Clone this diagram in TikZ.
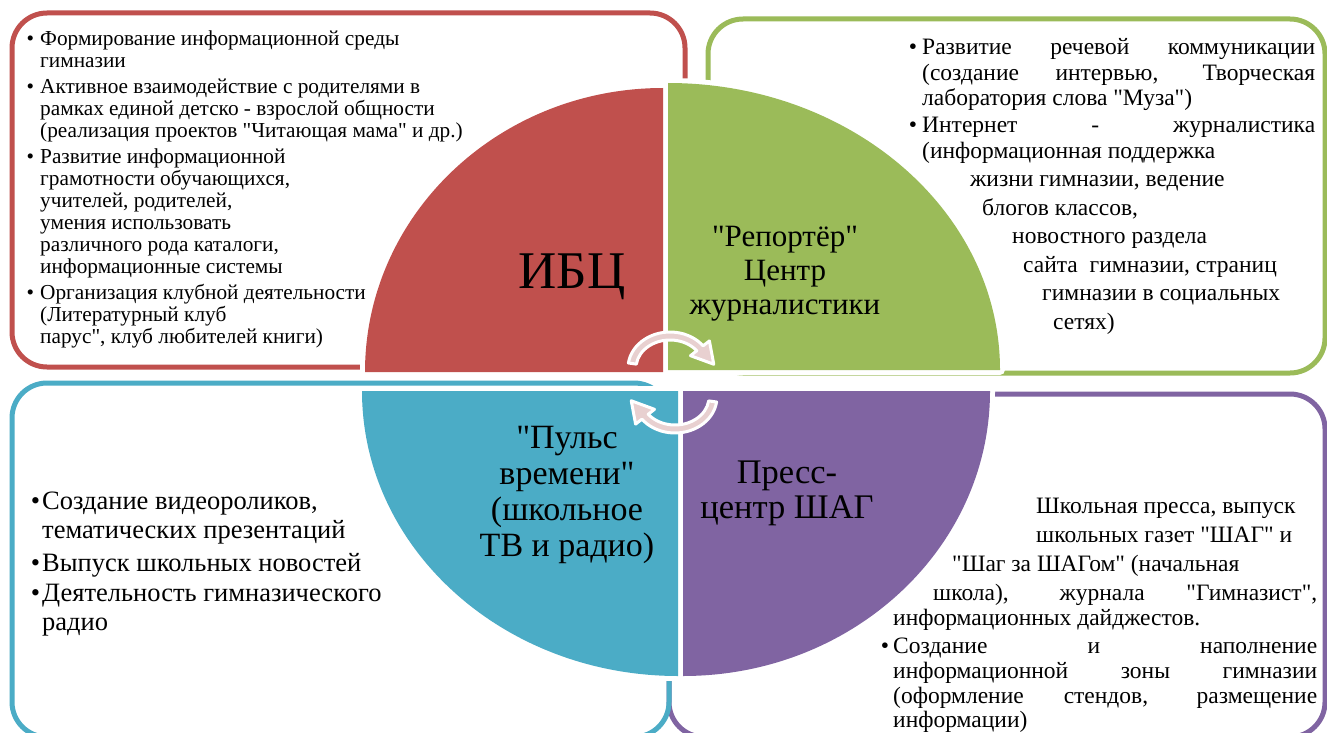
\documentclass[tikz,border=0pt]{standalone}
\usepackage{fontspec}
\setmainfont{Liberation Serif}
\newfontfamily\tnr{Liberation Serif}
\usetikzlibrary{calc}
\definecolor{ibcred}{RGB}{192,80,77}
\definecolor{repgreen}{RGB}{155,187,89}
\definecolor{tvblue}{RGB}{75,172,198}
\definecolor{presspurple}{RGB}{128,100,162}
\definecolor{arrowpink}{RGB}{232,208,208}
\newcommand{\bulx}[1]{\leavevmode\llap{\textbullet\hspace{#1}}}
\begin{document}
\begin{tikzpicture}[x=1pt,y=-1pt,
  every node/.append style={font=\tnr},
  frame/.style={draw, line width=5pt, rounded corners=35pt, inner sep=0pt, outer sep=0pt, anchor=north west},
  halo/.style={draw=white, line width=10pt, line join=round},
  label/.style={inner sep=0pt, anchor=base},
  block/.style={inner sep=0pt, anchor=base west},
  cyc/.style={fill=arrowpink, draw=white, line width=3pt, line join=round},
]
\useasboundingbox (0,0) rectangle (1327,733);
\clip (0,0) rectangle (1327,733);
\fill[white] (0,0) rectangle (1327,733);

% frames
\node[frame, draw=ibcred, minimum width=673pt, minimum height=354pt] (ibcbox) at (12,13) {};
\node[frame, draw=repgreen, minimum width=617pt, minimum height=354pt] (repbox) at (708,19) {};
\node[frame, draw=presspurple, minimum width=656pt, minimum height=343pt] (pressbox) at (669,394) {};
\node[frame, draw=tvblue, minimum width=657pt, minimum height=354pt] (tvbox) at (12,383) {};

% white halos round the quarters
\path[halo] (663,372) -- ++(-298,0) arc[start angle=180, end angle=270, x radius=298, y radius=284] -- cycle;
\path[halo] (668,370) -- ++(332,0) arc[start angle=0, end angle=-90, x radius=332, y radius=287] -- cycle;
\path[halo] (678,391) -- ++(-316,0) arc[start angle=180, end angle=90, x radius=316, y radius=285] -- cycle;
\path[halo] (683,391) -- ++(307,0) arc[start angle=0, end angle=90, x radius=307, y radius=285] -- cycle;

% quarters
\fill[ibcred] (663,372) -- ++(-298,0) arc[start angle=180, end angle=270, x radius=298, y radius=284] -- cycle;
\fill[repgreen] (668,370) -- ++(332,0) arc[start angle=0, end angle=-90, x radius=332, y radius=287] -- cycle;
\fill[tvblue] (678,391) -- ++(-316,0) arc[start angle=180, end angle=90, x radius=316, y radius=285] -- cycle;
\fill[presspurple] (683,391) -- ++(307,0) arc[start angle=0, end angle=90, x radius=307, y radius=285] -- cycle;

% circular arrows
\coordinate (cu) at (670,368);
\coordinate (cl) at (675,397);
\path[cyc] ($(cu)+(-172:42 and 36)$) arc[start angle=-172, end angle=-38, x radius=42, y radius=36]
  -- ($(cu)+(-38:50 and 44)$) -- ($(cu)+(-6:44 and 36)$) -- ($(cu)+(-38:26 and 20)$)
  -- ($(cu)+(-38:34 and 28)$) arc[start angle=-38, end angle=-172, x radius=34, y radius=28] -- cycle;
\path[cyc] ($(cl)+(8:42 and 36)$) arc[start angle=8, end angle=142, x radius=42, y radius=36]
  -- ($(cl)+(142:50 and 44)$) -- ($(cl)+(174:44 and 36)$) -- ($(cl)+(142:26 and 20)$)
  -- ($(cl)+(142:34 and 28)$) arc[start angle=142, end angle=8, x radius=34, y radius=28] -- cycle;

% centre labels
\node[label] (ibc) at (572,288) {\fontsize{53}{53}\selectfont ИБЦ};
\node[label] (rep) at (785,246) {\parbox[t]{220pt}{\centering\fontsize{31}{34}\selectfont "Репортёр"\\Центр\\журналистики}};
\node[label] (puls) at (567,448) {\parbox[t]{220pt}{\centering\fontsize{34}{36}\selectfont "Пульс\\времени"\\(школьное\\ТВ и радио)}};
\node[label] (press) at (787,483) {\parbox[t]{220pt}{\centering\fontsize{34.5}{35}\selectfont Пресс-\\центр ШАГ}};

% text blocks
\node[block] (ibctext) at (40,46) {\parbox[t]{640pt}{\fontsize{21.3}{22}\selectfont
\bulx{6pt}Формирование информационной среды\\
гимназии\\[4pt]
\bulx{6pt}Активное взаимодействие с родителями в\\
рамках единой детско - взрослой общности\\
(реализация проектов "Читающая мама" и др.)\\[4pt]
\bulx{6pt}Развитие информационной\\
грамотности обучающихся,\\
учителей, родителей,\\
умения использовать\\
различного рода каталоги,\\
информационные системы\\[4pt]
\bulx{6pt}Организация клубной деятельности\\
(Литературный клуб\\
парус", клуб любителей книги)}};

\node[block] (reptext) at (922,55) {\parbox[t]{400pt}{\fontsize{23.5}{25.5}\selectfont
\bulx{5pt}\makebox[393pt][s]{Развитие речевой коммуникации}\\
\makebox[393pt][s]{(создание интервью, Творческая}\\
лаборатория слова "Муза")\\[1.5pt]
\bulx{5pt}\makebox[393pt][s]{Интернет - журналистика}\\
(информационная поддержка\\[3pt]
\hspace*{48pt}жизни гимназии, ведение\\[3pt]
\hspace*{60pt}блогов классов,\\[3pt]
\hspace*{90pt}новостного раздела\\[3pt]
\hspace*{101pt}сайта~ гимназии, страниц\\[3pt]
\hspace*{120pt}гимназии в социальных\\[3pt]
\hspace*{131pt}сетях)}};

\node[block] (tvtext) at (42,509) {\parbox[t]{400pt}{\fontsize{26.5}{29}\selectfont
\bulx{2pt}Создание видеороликов,\\
тематических презентаций\\[4pt]
\bulx{2pt}Выпуск школьных новостей\\[1pt]
\bulx{2pt}Деятельность гимназического\\
радио}};

\node[block] (presstext) at (893,513) {\parbox[t]{430pt}{\fontsize{23.5}{25}\selectfont
\hspace*{143pt}Школьная пресса, выпуск\\[4pt]
\hspace*{143pt}школьных газет "ШАГ" и\\[4pt]
\hspace*{59pt}"Шаг за ШАГом" (начальная\\[4pt]
\hspace*{40pt}\makebox[384pt][s]{школа), журнала "Гимназист",}\\
информационных дайджестов.\\[3pt]
\bulx{4pt}\makebox[424pt][s]{Создание и наполнение}\\
\makebox[424pt][s]{информационной зоны гимназии}\\
\makebox[424pt][s]{(оформление стендов, размещение}\\[-1pt]
информации)}};
\end{tikzpicture}
\end{document}
